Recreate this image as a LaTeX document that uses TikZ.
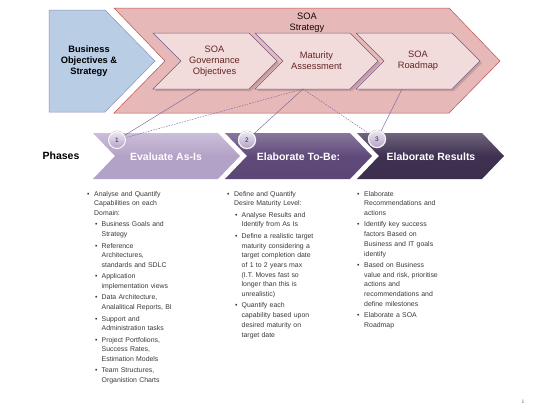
\documentclass[tikz,border=0pt]{standalone}
\usepackage{fontspec}
\setmainfont{Liberation Sans}
\definecolor{blueFill}{HTML}{B9CDE5}
\definecolor{blueLine}{HTML}{8E90C0}
\definecolor{pinkFill}{HTML}{E6B9B8}
\definecolor{pinkLine}{HTML}{C0504D}
\definecolor{innerFill}{HTML}{F2DCDB}
\definecolor{innerLine}{HTML}{6E5A8A}
\definecolor{innerShadow}{HTML}{B98A8A}
\definecolor{innerText}{HTML}{632523}
\definecolor{phA}{HTML}{B3A2C7}
\definecolor{phB}{HTML}{604A7B}
\definecolor{phC}{HTML}{3F3151}
\definecolor{linkCol}{HTML}{7A679A}
\definecolor{bodyText}{HTML}{3A3A3A}
\definecolor{circTop}{HTML}{EEE9F4}
\definecolor{circBot}{HTML}{B2A2C9}
\newcommand\itA[1]{\par\leftskip=0pt\hangindent=7pt\hangafter=1\noindent\makebox[7pt][l]{\textbullet}#1}
\newcommand\itB[1]{\par\leftskip=8pt\hangindent=6.5pt\hangafter=1\noindent\makebox[6.5pt][l]{\textbullet}#1}
\tikzset{
  bluebox/.style={fill=blueFill,draw=blueLine,line width=0.5pt},
  pinkbox/.style={fill=pinkFill,draw=pinkLine,line width=0.5pt},
  innerbox/.style={fill=innerFill,draw=innerLine,line width=0.5pt},
  innershadow/.style={fill=innerShadow,opacity=0.6},
  innertext/.style={text=innerText,font=\fontsize{9.3}{11}\selectfont,align=center,inner sep=0pt},
  phasetext/.style={text=white,font=\bfseries\fontsize{10.5}{12}\selectfont,inner sep=0pt},
  numcircle/.style={circle,minimum size=17pt,inner sep=0pt,draw=white,line width=0.9pt,
    top color=circTop,bottom color=circBot,text=black!85,font=\fontsize{6.5}{7}\selectfont,
    preaction={draw=black!30,line width=1.6pt}},
  link/.style={draw=linkCol,line width=0.45pt},
  dlink/.style={draw=linkCol,line width=0.45pt,dash pattern=on 1.5pt off 1.2pt},
  bodycol/.style={anchor=north west,inner sep=0pt,text width=125pt,text=bodyText,
    font=\fontsize{6.9}{9.7}\selectfont}
}
\begin{document}
\begin{tikzpicture}[x=1pt,y=-1pt]
\useasboundingbox (0,0) rectangle (550,413);
\fill[white] (0,0) rectangle (550,413);
% top row
\draw[bluebox] (49,10) -- (105,10) -- (155,61) -- (105,112) -- (49,112) -- cycle;
\draw[pinkbox] (114,8) -- (449,8) -- (500,61) -- (449,113) -- (114,113) -- (165,61) -- cycle;
% inner chevron shadows
\fill[innershadow] (155,35) -- (251,35) -- (279,63) -- (251,91) -- (155,91) -- (183,63) -- cycle;
\fill[innershadow] (257,35) -- (352,35) -- (380,63) -- (352,91) -- (257,91) -- (285,63) -- cycle;
\fill[innershadow] (358,35) -- (454,35) -- (482,63) -- (454,91) -- (358,91) -- (386,63) -- cycle;
% inner chevrons
\draw[innerbox] (153,33) -- (249,33) -- (277,61) -- (249,89) -- (153,89) -- (181,61) -- cycle;
\draw[innerbox] (255,33) -- (350,33) -- (378,61) -- (350,89) -- (255,89) -- (283,61) -- cycle;
\draw[innerbox] (356,33) -- (452,33) -- (480,61) -- (452,89) -- (356,89) -- (384,61) -- cycle;
\coordinate (govB) at (200,89);
\coordinate (matB) at (303,89);
\coordinate (roadB) at (402,89);
\node[align=center,inner sep=0pt,font=\bfseries\fontsize{9.3}{11}\selectfont] (biz) at (89,61) {Business\\Objectives \&\\Strategy};
\node[align=center,inner sep=0pt,text=black!80!innerText,font=\fontsize{9.3}{11}\selectfont] (soa) at (307,22.5) {SOA\\Strategy};
\node[innertext] (gov) at (214.5,61) {SOA\\Governance\\Objectives};
\node[innertext] (mat) at (316.5,61) {Maturity\\Assessment};
\node[innertext] (road) at (418,61) {SOA\\Roadmap};
% phases
\node[font=\bfseries\fontsize{10.5}{12}\selectfont,inner sep=0pt] (phases) at (61,156) {Phases};
\shade[top color=phA!70!white,bottom color=phA,middle color=phA] (93,133) -- (218,133) -- (240,156) -- (218,179) -- (93,179) -- (115,156) -- cycle;
\shade[top color=phB!75!white,bottom color=phB!95!black,middle color=phB] (225,133) -- (350,133) -- (372,156) -- (350,179) -- (225,179) -- (247,156) -- cycle;
\shade[top color=phC!75!white,bottom color=phC!95!black,middle color=phC] (357,133) -- (482,133) -- (504,156) -- (482,179) -- (357,179) -- (379,156) -- cycle;
\node[phasetext] (evalp) at (166,156.5) {Evaluate As-Is};
\node[phasetext] (tobep) at (298.5,156.5) {Elaborate To-Be:};
\node[phasetext] (resp) at (431,156.5) {Elaborate Results};
\node[numcircle] (c1) at (117,140) {1};
\node[numcircle] (c2) at (247,140) {2};
\node[numcircle] (c3) at (377,139) {3};
\draw[link] (govB) -- (c1);
\draw[dlink] (matB) -- (c1);
\draw[link] (matB) -- (c2);
\draw[dlink] (matB) -- (c3);
\draw[link] (roadB) -- (c3);
% bullet text
\node[bodycol] (colA) at (87,184.5) {\parindent=0pt\parskip=1.7pt
\itA{Analyse and Quantify\newline Capabilities on each\newline Domain:}
\itB{Business Goals and\newline Strategy}
\itB{Reference\newline Architectures,\newline standards and SDLC}
\itB{Application\newline implementation views}
\itB{Data Architecture,\newline Analalitical Reports, BI}
\itB{Support and\newline Administration tasks}
\itB{Project Portfolions,\newline Success Rates,\newline Estimation Models}
\itB{Team Structures,\newline Organistion Charts}\par};
\node[bodycol] (colB) at (227,184.5) {\parindent=0pt\parskip=1.7pt
\itA{Define and Quantify\newline Desire Maturity Level:}
\itB{Analyse Results and\newline Identify from As Is}
\itB{Define a realistic target\newline maturity considering a\newline target completion date\newline of 1 to 2 years max\newline (I.T. Moves fast so\newline longer than this is\newline unrealistic)}
\itB{Quantify each\newline capability based upon\newline desired maturity on\newline target date}\par};
\node[bodycol] (colC) at (357,184.5) {\parindent=0pt\parskip=1.7pt
\itA{Elaborate\newline Recommendations and\newline actions}
\itA{Identify key success\newline factors Based on\newline Business and IT goals\newline identify}
\itA{Based on Business\newline value and risk, prioritise\newline actions and\newline recommendations and\newline define milestones}
\itA{Elaborate a SOA\newline Roadmap}\par};
\node[text=black!55,font=\fontsize{5}{6}\selectfont,inner sep=0pt] (pnum) at (523,402) {1};
\end{tikzpicture}
\end{document}
